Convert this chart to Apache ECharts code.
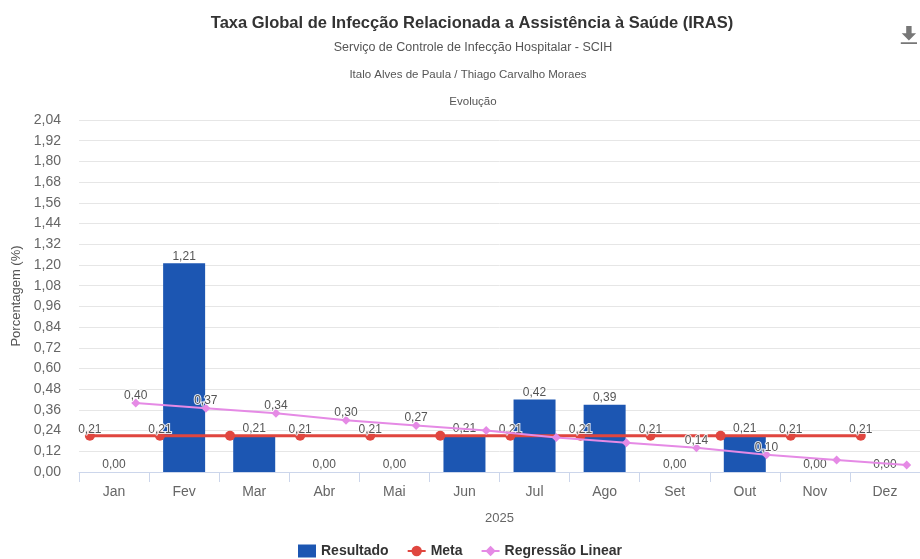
<!DOCTYPE html>
<html><head><meta charset="utf-8">
<script src="https://cdn.jsdelivr.net/npm/echarts@6/dist/echarts.min.js"></script>
<style>html,body{margin:0;padding:0;background:#fff}#c{width:920px;height:559px}</style>
</head><body><div id="c"></div>
<script>
const categories = ['Jan','Fev','Mar','Abr','Mai','Jun','Jul','Ago','Set','Out','Nov','Dez'];
const resultado = [0.00, 1.21, 0.21, 0.00, 0.00, 0.21, 0.42, 0.39, 0.00, 0.21, 0.00, 0.00];
const meta = [0.21, 0.21, 0.21, 0.21, 0.21, 0.21, 0.21, 0.21, 0.21, 0.21, 0.21, 0.21];
const regressao = [0.40, 0.37, 0.34, 0.30, 0.27, 0.24, 0.20, 0.17, 0.14, 0.10, 0.07, 0.04];
const yTicks = {min: 0, max: 2.04, interval: 0.12};
const xName = '2025';
const yName = 'Porcentagem (%)';
const titleMain = 'Taxa Global de Infecção Relacionada a Assistência à Saúde (IRAS)';
const subtitles = ['Serviço de Controle de Infecção Hospitalar - SCIH', 'Italo Alves de Paula / Thiago Carvalho Moraes', 'Evolução'];

const FONT = '"Liberation Sans", Arial, sans-serif';
const fmt = v => (Math.round(v * 100) / 100).toFixed(2).replace('.', ',');
const META_OFF = -0.345, REG_OFF = 0.31;
const regHidden = [5, 6, 7, 10, 11];

const labelStyle = {color: '#555', fontSize: 12, fontFamily: FONT,
  textBorderColor: 'rgba(255,255,255,0.85)', textBorderWidth: 2};

const metaData = meta.map((v, i) => ({
  value: [i + META_OFF, v],
  label: {show: Math.abs(resultado[i] - v) > 0.005}
}));
const regData = regressao.map((v, i) => ({
  value: [i + REG_OFF, v],
  label: {show: regHidden.indexOf(i) < 0}
}));

const chart = echarts.init(document.getElementById('c'), null, {renderer: 'canvas'});
chart.setOption({
  animation: false,
  backgroundColor: '#fff',
  textStyle: {fontFamily: FONT},
  title: [
    {text: titleMain, left: 467, top: 10, textAlign: 'center',
     textStyle: {fontSize: 16.5, fontWeight: 'bold', color: '#333', fontFamily: FONT}},
    {text: subtitles[0], left: 468, top: 36, textAlign: 'center',
     textStyle: {fontSize: 12.5, fontWeight: 'normal', color: '#555', fontFamily: FONT}},
    {text: subtitles[1], left: 463, top: 64, textAlign: 'center',
     textStyle: {fontSize: 11.5, fontWeight: 'normal', color: '#555', fontFamily: FONT}},
    {text: subtitles[2], left: 468, top: 91, textAlign: 'center',
     textStyle: {fontSize: 11.5, fontWeight: 'normal', color: '#555', fontFamily: FONT}}
  ],
  toolbox: {
    right: -12, top: 11, itemSize: 18,
    feature: {saveAsImage: {title: '', icon: 'path://M6,0 L12,0 L12,8 L17,8 L9,16 L1,8 L6,8 Z M0,18 L18,18 L18,20 L0,20 Z'}},
    iconStyle: {color: '#777', borderColor: '#777', borderWidth: 0}
  },
  legend: {
    bottom: -4, left: 293, itemGap: 18, itemWidth: 18, itemHeight: 13,
    textStyle: {fontSize: 14, fontWeight: 'bold', color: '#333', fontFamily: FONT},
    data: [{name: 'Resultado', icon: 'rect'}, {name: 'Meta'}, {name: 'Regressão Linear'}]
  },
  grid: {left: 79, top: 120, width: 852, height: 352, containLabel: false},
  xAxis: [
    {type: 'category', data: categories, name: xName, nameLocation: 'middle', nameGap: 40,
     nameTextStyle: {fontSize: 13, color: '#666', fontFamily: FONT},
     axisLine: {lineStyle: {color: '#ccd6eb'}},
     axisTick: {show: true, length: 10, alignWithLabel: false, lineStyle: {color: '#ccd6eb'}},
     axisLabel: {fontSize: 14, color: '#666', margin: 13, fontFamily: FONT},
     splitLine: {show: false}},
    {type: 'value', min: -0.5, max: 11.5, show: false}
  ],
  yAxis: {
    type: 'value', min: yTicks.min, max: yTicks.max, interval: yTicks.interval,
    name: yName, nameLocation: 'middle', nameGap: 55, nameRotate: 90,
    nameTextStyle: {fontSize: 13, color: '#555', fontFamily: FONT},
    axisLine: {show: false}, axisTick: {show: false},
    axisLabel: {fontSize: 14, color: '#666', margin: 18, formatter: v => fmt(v), fontFamily: FONT},
    splitLine: {lineStyle: {color: '#e6e6e6', width: 1}}
  },
  series: [
    {name: 'Resultado', type: 'bar', data: resultado, barWidth: 42, xAxisIndex: 0,
     itemStyle: {color: '#1c56b2'},
     label: Object.assign({show: true, position: 'top', distance: 1, formatter: p => fmt(p.value)}, labelStyle),
     z: 2},
    {name: 'Meta', type: 'line', xAxisIndex: 1, data: metaData,
     color: '#e0463f',
     lineStyle: {color: '#e0463f', width: 3},
     itemStyle: {color: '#e0463f'},
     symbol: 'circle', symbolSize: 10,
     label: Object.assign({position: 'top', distance: -5, formatter: p => fmt(p.value[1])}, labelStyle),
     z: 3},
    {name: 'Regressão Linear', type: 'line', xAxisIndex: 1, data: regData,
     color: '#e58ae5',
     lineStyle: {color: '#e58ae5', width: 2},
     itemStyle: {color: '#e58ae5'},
     symbol: 'diamond', symbolSize: 9,
     label: Object.assign({position: 'top', distance: -3, formatter: p => fmt(p.value[1])}, labelStyle),
     z: 4}
  ]
});
</script></body></html>
